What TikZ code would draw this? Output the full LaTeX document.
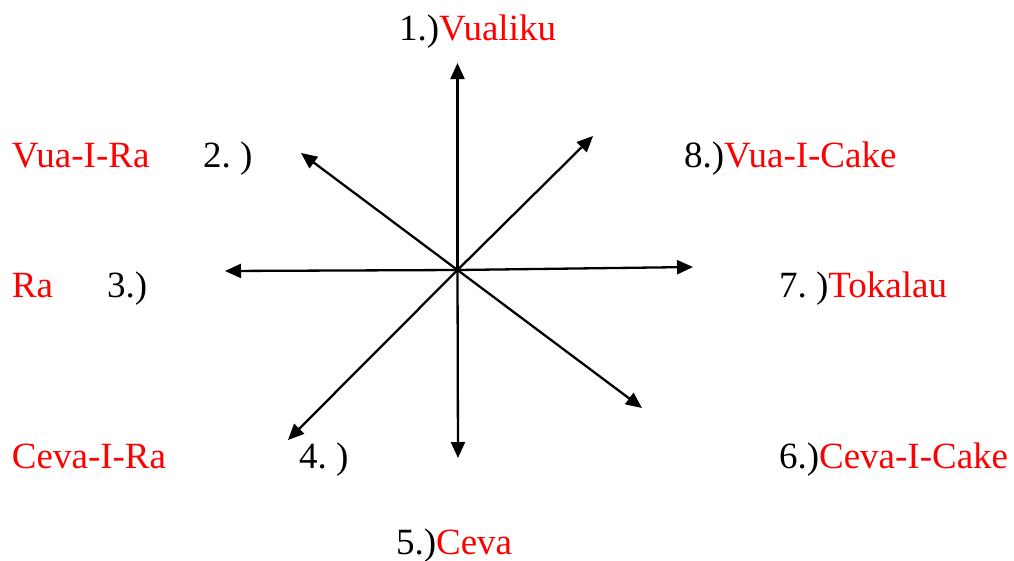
\documentclass[tikz,border=0pt]{standalone}
\usepackage{fontspec}
\setmainfont{Liberation Serif}
\usetikzlibrary{arrows.meta}
\definecolor{dirred}{RGB}{255,0,0}
\frenchspacing
\tikzset{
  lbl/.style={anchor=base west, inner sep=0pt, outer sep=0pt, font=\fontsize{37}{40}\selectfont},
  dir/.style={line width=2.3pt, -{Triangle[length=16pt,width=14pt]}},
}
\begin{document}
\begin{tikzpicture}[x=1pt,y=-1pt]
\useasboundingbox (0,0) rectangle (1014,560);
\coordinate (c) at (457.5,270);
\coordinate (e1) at (457.5,63);
\coordinate (e8) at (593,136);
\coordinate (e7) at (693,267);
\coordinate (e6) at (642,408);
\coordinate (e5) at (458,458);
\coordinate (e4) at (288,440);
\coordinate (e3) at (225,271);
\coordinate (e2) at (301,153);
\foreach \e in {e1,e2,e3,e4,e5,e6,e7,e8} \draw[dir] (c) -- (\e);

\node[lbl] (t1) at (399,40) {1.)\textcolor{dirred}{Vualiku}};
\node[lbl] (t2a) at (12,167) {\textcolor{dirred}{Vua-I-Ra}};
\node[lbl] (t2b) at (203,167) {2. )};
\node[lbl] (t8) at (684,167) {8.)\textcolor{dirred}{Vua-I-Cake}};
\node[lbl] (t3a) at (12,297) {\textcolor{dirred}{Ra}};
\node[lbl] (t3b) at (107,297) {3.)};
\node[lbl] (t7) at (779,297) {7. )\textcolor{dirred}{Tokalau}};
\node[lbl] (t4a) at (12,468) {\textcolor{dirred}{Ceva-I-Ra}};
\node[lbl] (t4b) at (299,468) {4. )};
\node[lbl] (t6) at (779,468) {6.)\textcolor{dirred}{Ceva-I-Cake}};
\node[lbl] (t5) at (396,554) {5.)\textcolor{dirred}{Ceva}};
\end{tikzpicture}
\end{document}
